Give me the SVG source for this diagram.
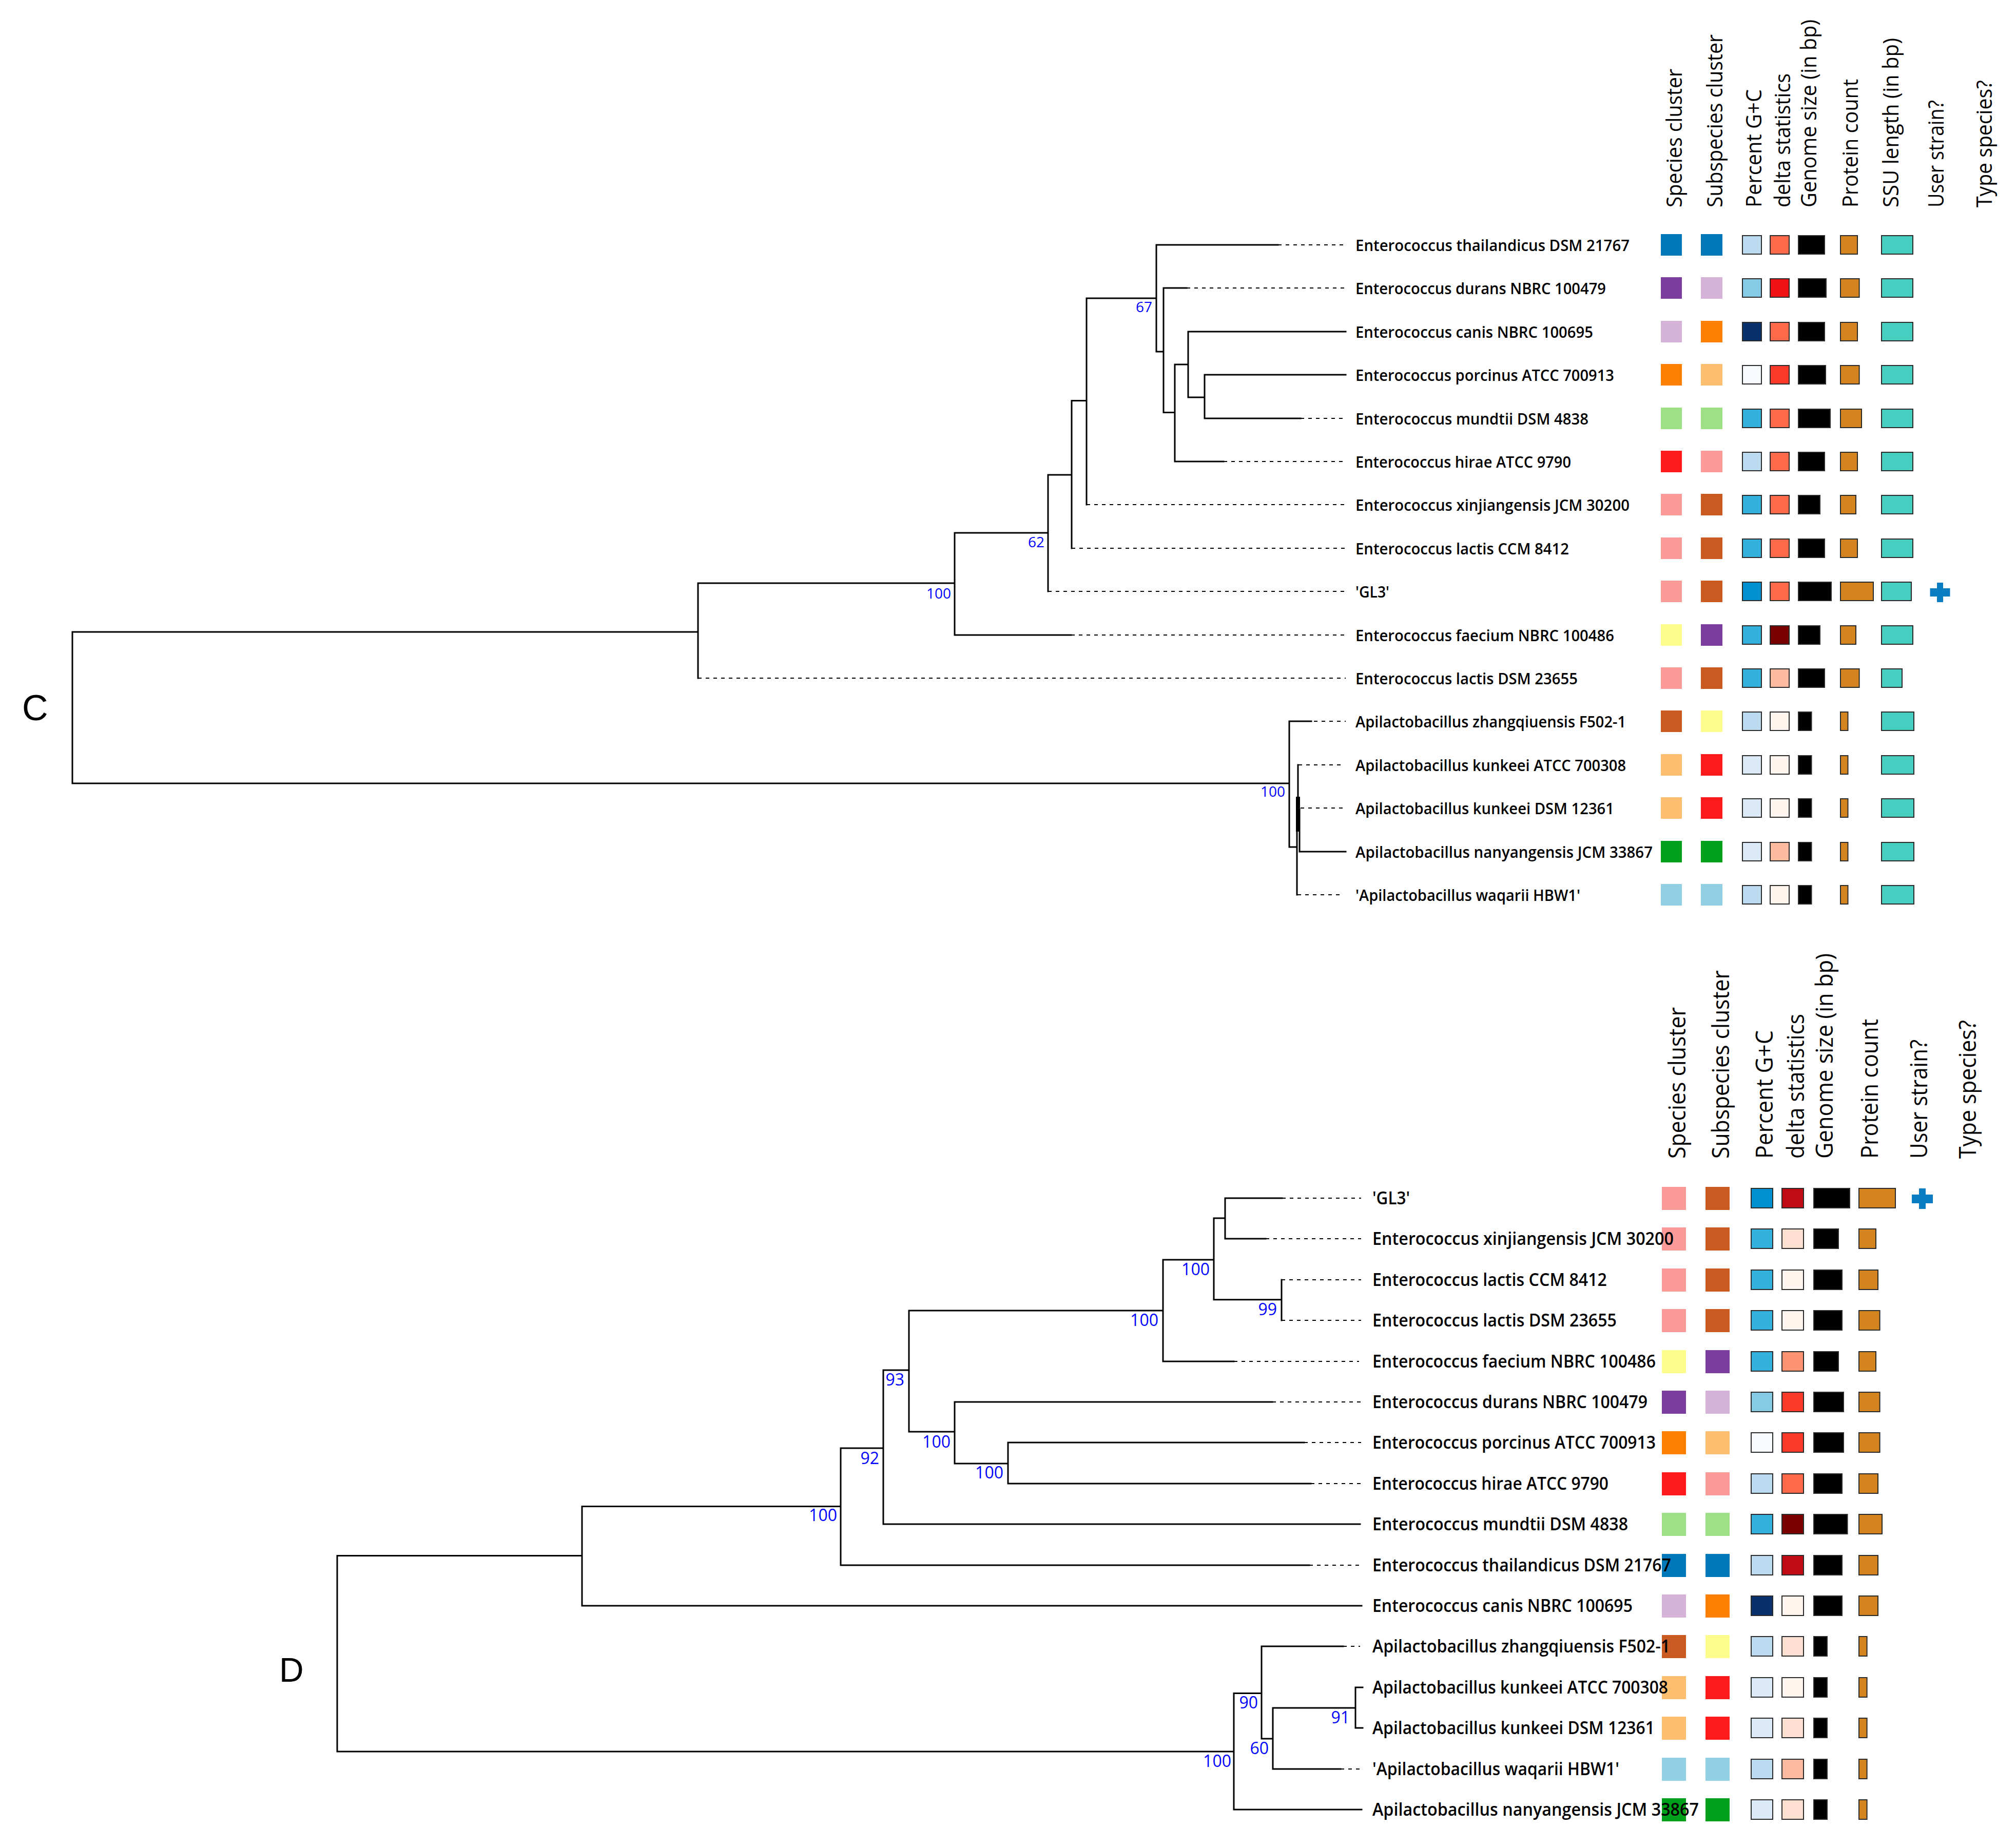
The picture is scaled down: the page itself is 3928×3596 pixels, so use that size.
<svg xmlns="http://www.w3.org/2000/svg" width="3928" height="3596" viewBox="0 0 3928 3596">
<defs>
<style>
.lbl{font-family:"Open Sans","Noto Sans","Liberation Sans",sans-serif;font-weight:600;fill:#000}
.lc{font-size:31px}
.ld{font-size:34px}
.hdr{font-family:"Open Sans","Noto Sans","Liberation Sans",sans-serif;fill:#000}
.hc{font-size:42px}
.hd{font-size:45px}
.bs{font-family:"Open Sans","Noto Sans","Liberation Sans",sans-serif;fill:#0000ff;text-anchor:end}
.bsc{font-size:28px}
.bsd{font-size:32px}
.pl{font-family:"Liberation Sans",Arial,sans-serif;fill:#000}
.br{stroke:#000;stroke-width:3;fill:none;stroke-linecap:square}
.dt{stroke:#000;stroke-width:2;fill:none;stroke-dasharray:7 8}
.m{stroke:#2b2b2b;stroke-width:2}
.k0{fill:#0077b8}.k1{fill:#7b3d9e}.k2{fill:#d5b3d9}.k3{fill:#ff7f00}.k4{fill:#fdbf6f}.k5{fill:#9de085}
.k6{fill:#fc1a1a}.k7{fill:#fb9a99}.k8{fill:#c85a22}.k9{fill:#fdfd8e}.k10{fill:#00a01a}.k11{fill:#92cfe3}
.g1{fill:#bcdaf0}.g2{fill:#86cbe5}.g3{fill:#08306b}.g4{fill:#f7fbff}.g5{fill:#33b0dc}.g6{fill:#0090d0}.g7{fill:#dceaf7}
.d1{fill:#ff6b4a}.d2{fill:#ee1217}.d3{fill:#fb3a2a}.d4{fill:#7a0000}.d5{fill:#fdbb9f}.d6{fill:#fff4ee}.d7{fill:#c00a14}.d8{fill:#fee0d2}.d9{fill:#fc9272}.d10{fill:#fcbba1}
.gs{fill:#000}.pc{fill:#d4841f}.ssu{fill:#46cfc0}
.cross{fill:#0a7dc2}
</style>
</defs>
<rect width="3928" height="3596" fill="#fff"/>

<!-- Panel letters -->
<text class="pl" x="43" y="1403" font-size="70">C</text>
<text class="pl" x="544" y="3276" font-size="66">D</text>

<!-- Column headers C -->
<g id="headers-c" class="hdr hc">
<text transform="translate(3277,404) rotate(-90)" textLength="270" lengthAdjust="spacingAndGlyphs">Species cluster</text>
<text transform="translate(3356,404) rotate(-90)" textLength="337" lengthAdjust="spacingAndGlyphs">Subspecies cluster</text>
<text transform="translate(3432,404) rotate(-90)" textLength="230" lengthAdjust="spacingAndGlyphs">Percent G+C</text>
<text transform="translate(3488,404) rotate(-90)" textLength="261" lengthAdjust="spacingAndGlyphs">delta statistics</text>
<text transform="translate(3539,404) rotate(-90)" textLength="366" lengthAdjust="spacingAndGlyphs">Genome size (in bp)</text>
<text transform="translate(3620,404) rotate(-90)" textLength="250" lengthAdjust="spacingAndGlyphs">Protein count</text>
<text transform="translate(3699,404) rotate(-90)" textLength="330" lengthAdjust="spacingAndGlyphs">SSU length (in bp)</text>
<text transform="translate(3787,404) rotate(-90)" textLength="209" lengthAdjust="spacingAndGlyphs">User strain?</text>
<text transform="translate(3881,404) rotate(-90)" textLength="248" lengthAdjust="spacingAndGlyphs">Type species?</text>
</g>

<!-- Column headers D -->
<g id="headers-d" class="hdr hd">
<text transform="translate(3284,2257) rotate(-90)" textLength="295" lengthAdjust="spacingAndGlyphs">Species cluster</text>
<text transform="translate(3369,2257) rotate(-90)" textLength="367" lengthAdjust="spacingAndGlyphs">Subspecies cluster</text>
<text transform="translate(3454,2257) rotate(-90)" textLength="250" lengthAdjust="spacingAndGlyphs">Percent G+C</text>
<text transform="translate(3515,2257) rotate(-90)" textLength="282" lengthAdjust="spacingAndGlyphs">delta statistics</text>
<text transform="translate(3571,2257) rotate(-90)" textLength="400" lengthAdjust="spacingAndGlyphs">Genome size (in bp)</text>
<text transform="translate(3659,2257) rotate(-90)" textLength="272" lengthAdjust="spacingAndGlyphs">Protein count</text>
<text transform="translate(3755,2257) rotate(-90)" textLength="232" lengthAdjust="spacingAndGlyphs">User strain?</text>
<text transform="translate(3850,2257) rotate(-90)" textLength="270" lengthAdjust="spacingAndGlyphs">Type species?</text>
</g>

<!-- Connectors (tree branches) -->
<g id="connectors">
<g id="tree-c">
<path class="br" d="M141 1231V1526M141 1231H1360M141 1526H2512
M1360 1136V1321M1360 1136H1860
M1860 1038V1237M1860 1038H2042M1860 1237H2087
M2042 925V1152M2042 925H2088
M2088 780.5V1068M2088 780.5H2117
M2117 581V983M2117 581H2253
M2253 477V685M2253 477H2490M2253 685H2267
M2267 561V803.5M2267 561H2312M2267 803.5H2289
M2289 710V899M2289 899H2384M2289 710H2315
M2315 646V774M2315 646H2622M2315 774H2347
M2347 730V815M2347 730H2622M2347 815H2534
M2512 1405V1650M2512 1405H2555M2512 1650H2527
M2527 1620V1743M2529 1490V1552M2532 1576V1659M2532 1659H2622"/>
<rect x="2525" y="1552" width="8" height="68" fill="#000"/>
<path class="dt" d="M2490 477H2622M2312 561H2622M2384 899H2622M2534 815H2622M2117 983H2622M2088 1068H2622M2042 1152H2622M2087 1237H2622M1360 1321H2622M2560 1405H2622M2530 1490H2620M2534 1574H2620M2528 1743H2615"/>
</g>
<g id="tree-d">
<path class="br" d="M657 3030.5V3412M657 3030.5H1134M657 3412H2404
M1134 2934.5V3128M1134 2934.5H1638M1134 3128H2653
M1638 2821V3049M1638 2821H1721M1638 3049H2551
M1721 2669V2969M1721 2669H1771M1721 2969H2650
M1771 2553V2789M1771 2553H2266M1771 2789H1860
M1860 2731V2851M1860 2731H2479M1860 2851H1964
M1964 2810V2890M1964 2810H2541M1964 2890H2554
M2266 2454V2652M2266 2454H2365M2266 2652H2404
M2365 2373V2531.7M2365 2373H2387M2365 2531.7H2497
M2387 2334V2413M2387 2334H2498M2387 2413H2466
M2497 2493V2572
M2404 3298.5V3525M2404 3298.5H2458M2404 3525H2653
M2458 3207V3387M2458 3207H2617M2458 3387H2480
M2480 3327V3446M2480 3327H2641M2480 3446H2612
M2641 3287V3366M2641 3287H2655M2641 3366H2655"/>
<path class="dt" d="M2551 3049H2652M2479 2731H2652M2541 2810H2652M2554 2890H2652M2404 2652H2648M2498 2334H2652M2466 2413H2652M2497 2493H2652M2497 2572H2652M2617 3207H2650M2612 3446H2652"/>
</g>
</g>

<!-- Support values -->
<g id="support-c" class="bs bsc">
<text x="2245" y="608">67</text>
<text x="2035" y="1066">62</text>
<text x="1853" y="1166">100</text>
<text x="2504" y="1552">100</text>
</g>
<g id="support-d" class="bs bsd">
<text x="1631" y="2963">100</text>
<text x="1713" y="2852">92</text>
<text x="1762" y="2699">93</text>
<text x="2257" y="2583">100</text>
<text x="1852" y="2820">100</text>
<text x="1955" y="2880">100</text>
<text x="2357" y="2484">100</text>
<text x="2488" y="2562">99</text>
<text x="2399" y="3442">100</text>
<text x="2451" y="3328">90</text>
<text x="2472" y="3417">60</text>
<text x="2630" y="3357">91</text>
</g>

<!-- Panel C leaves -->
<g id="c-thailandicus">
<rect class="k0" x="3236" y="456" width="41" height="42"/><rect class="k0" x="3314" y="456" width="42" height="42"/>
<rect class="m g1" x="3395" y="459" width="37" height="36"/><rect class="m d1" x="3449" y="459" width="37" height="36"/>
<rect class="m gs" x="3504" y="459" width="51" height="36"/><rect class="m pc" x="3586" y="459" width="33" height="36"/><rect class="m ssu" x="3666" y="459" width="61" height="36"/>
<text class="lbl lc" x="2641" y="489" textLength="534" lengthAdjust="spacingAndGlyphs">Enterococcus thailandicus DSM 21767</text>
</g>
<g id="c-durans">
<rect class="k1" x="3236" y="540" width="41" height="42"/><rect class="k2" x="3314" y="540" width="42" height="42"/>
<rect class="m g2" x="3395" y="543" width="37" height="36"/><rect class="m d2" x="3449" y="543" width="37" height="36"/>
<rect class="m gs" x="3504" y="543" width="54" height="36"/><rect class="m pc" x="3586" y="543" width="36.6" height="36"/><rect class="m ssu" x="3666" y="543" width="61" height="36"/>
<text class="lbl lc" x="2641" y="573" textLength="488" lengthAdjust="spacingAndGlyphs">Enterococcus durans NBRC 100479</text>
</g>
<g id="c-canis">
<rect class="k2" x="3236" y="625" width="41" height="42"/><rect class="k3" x="3314" y="625" width="42" height="42"/>
<rect class="m g3" x="3395" y="628" width="37" height="36"/><rect class="m d1" x="3449" y="628" width="37" height="36"/>
<rect class="m gs" x="3504" y="628" width="51" height="36"/><rect class="m pc" x="3586" y="628" width="33" height="36"/><rect class="m ssu" x="3666" y="628" width="61" height="36"/>
<text class="lbl lc" x="2641" y="658" textLength="463" lengthAdjust="spacingAndGlyphs">Enterococcus canis NBRC 100695</text>
</g>
<g id="c-porcinus">
<rect class="k3" x="3236" y="709" width="41" height="42"/><rect class="k4" x="3314" y="709" width="42" height="42"/>
<rect class="m g4" x="3395" y="712" width="37" height="36"/><rect class="m d3" x="3449" y="712" width="37" height="36"/>
<rect class="m gs" x="3504" y="712" width="53" height="36"/><rect class="m pc" x="3586" y="712" width="36.6" height="36"/><rect class="m ssu" x="3666" y="712" width="61" height="36"/>
<text class="lbl lc" x="2641" y="742" textLength="504" lengthAdjust="spacingAndGlyphs">Enterococcus porcinus ATCC 700913</text>
</g>
<g id="c-mundtii">
<rect class="k5" x="3236" y="794" width="41" height="42"/><rect class="k5" x="3314" y="794" width="42" height="42"/>
<rect class="m g5" x="3395" y="797" width="37" height="36"/><rect class="m d1" x="3449" y="797" width="37" height="36"/>
<rect class="m gs" x="3504" y="797" width="62" height="36"/><rect class="m pc" x="3586" y="797" width="41" height="36"/><rect class="m ssu" x="3666" y="797" width="61" height="36"/>
<text class="lbl lc" x="2641" y="827" textLength="454" lengthAdjust="spacingAndGlyphs">Enterococcus mundtii DSM 4838</text>
</g>
<g id="c-hirae">
<rect class="k6" x="3236" y="878" width="41" height="42"/><rect class="k7" x="3314" y="878" width="42" height="42"/>
<rect class="m g1" x="3395" y="881" width="37" height="36"/><rect class="m d1" x="3449" y="881" width="37" height="36"/>
<rect class="m gs" x="3504" y="881" width="51" height="36"/><rect class="m pc" x="3586" y="881" width="33" height="36"/><rect class="m ssu" x="3666" y="881" width="61" height="36"/>
<text class="lbl lc" x="2641" y="911" textLength="420" lengthAdjust="spacingAndGlyphs">Enterococcus hirae ATCC 9790</text>
</g>
<g id="c-xinjiangensis">
<rect class="k7" x="3236" y="962" width="41" height="42"/><rect class="k8" x="3314" y="962" width="42" height="42"/>
<rect class="m g5" x="3395" y="965" width="37" height="36"/><rect class="m d1" x="3449" y="965" width="37" height="36"/>
<rect class="m gs" x="3504" y="965" width="42" height="36"/><rect class="m pc" x="3586" y="965" width="30" height="36"/><rect class="m ssu" x="3666" y="965" width="61" height="36"/>
<text class="lbl lc" x="2641" y="995" textLength="534" lengthAdjust="spacingAndGlyphs">Enterococcus xinjiangensis JCM 30200</text>
</g>
<g id="c-lactis-ccm">
<rect class="k7" x="3236" y="1047" width="41" height="42"/><rect class="k8" x="3314" y="1047" width="42" height="42"/>
<rect class="m g5" x="3395" y="1050" width="37" height="36"/><rect class="m d1" x="3449" y="1050" width="37" height="36"/>
<rect class="m gs" x="3504" y="1050" width="51" height="36"/><rect class="m pc" x="3586" y="1050" width="33" height="36"/><rect class="m ssu" x="3666" y="1050" width="61" height="36"/>
<text class="lbl lc" x="2641" y="1080" textLength="416" lengthAdjust="spacingAndGlyphs">Enterococcus lactis CCM 8412</text>
</g>
<g id="c-gl3">
<rect class="k7" x="3236" y="1131" width="41" height="42"/><rect class="k8" x="3314" y="1131" width="42" height="42"/>
<rect class="m g6" x="3395" y="1134" width="37" height="36"/><rect class="m d1" x="3449" y="1134" width="37" height="36"/>
<rect class="m gs" x="3504" y="1134" width="64" height="36"/><rect class="m pc" x="3586" y="1134" width="64" height="36"/><rect class="m ssu" x="3666" y="1134" width="58" height="36"/>
<path class="cross" d="M3774 1135h12v11h13.5v16h-13.5v11h-12v-11h-13.5v-16h13.5z"/>
<text class="lbl lc" x="2641" y="1164" textLength="66" lengthAdjust="spacingAndGlyphs">'GL3'</text>
</g>
<g id="c-faecium">
<rect class="k9" x="3236" y="1216" width="41" height="42"/><rect class="k1" x="3314" y="1216" width="42" height="42"/>
<rect class="m g5" x="3395" y="1219" width="37" height="36"/><rect class="m d4" x="3449" y="1219" width="37" height="36"/>
<rect class="m gs" x="3504" y="1219" width="42" height="36"/><rect class="m pc" x="3586" y="1219" width="30" height="36"/><rect class="m ssu" x="3666" y="1219" width="61" height="36"/>
<text class="lbl lc" x="2641" y="1249" textLength="504" lengthAdjust="spacingAndGlyphs">Enterococcus faecium NBRC 100486</text>
</g>
<g id="c-lactis-dsm">
<rect class="k7" x="3236" y="1300" width="41" height="42"/><rect class="k8" x="3314" y="1300" width="42" height="42"/>
<rect class="m g5" x="3395" y="1303" width="37" height="36"/><rect class="m d5" x="3449" y="1303" width="37" height="36"/>
<rect class="m gs" x="3504" y="1303" width="51" height="36"/><rect class="m pc" x="3586" y="1303" width="36.6" height="36"/><rect class="m ssu" x="3666" y="1303" width="40" height="36"/>
<text class="lbl lc" x="2641" y="1333" textLength="433" lengthAdjust="spacingAndGlyphs">Enterococcus lactis DSM 23655</text>
</g>
<g id="c-zhangqiuensis">
<rect class="k8" x="3236" y="1384" width="41" height="42"/><rect class="k9" x="3314" y="1384" width="42" height="42"/>
<rect class="m g1" x="3395" y="1387" width="37" height="36"/><rect class="m d6" x="3449" y="1387" width="37" height="36"/>
<rect class="m gs" x="3504" y="1387" width="25.5" height="36"/><rect class="m pc" x="3586" y="1387" width="14.5" height="36"/><rect class="m ssu" x="3666" y="1387" width="63" height="36"/>
<text class="lbl lc" x="2641" y="1417" textLength="527" lengthAdjust="spacingAndGlyphs">Apilactobacillus zhangqiuensis F502-1</text>
</g>
<g id="c-kunkeei-atcc">
<rect class="k4" x="3236" y="1469" width="41" height="42"/><rect class="k6" x="3314" y="1469" width="42" height="42"/>
<rect class="m g7" x="3395" y="1472" width="37" height="36"/><rect class="m d6" x="3449" y="1472" width="37" height="36"/>
<rect class="m gs" x="3504" y="1472" width="25.5" height="36"/><rect class="m pc" x="3586" y="1472" width="14.5" height="36"/><rect class="m ssu" x="3666" y="1472" width="63" height="36"/>
<text class="lbl lc" x="2641" y="1502" textLength="527" lengthAdjust="spacingAndGlyphs">Apilactobacillus kunkeei ATCC 700308</text>
</g>
<g id="c-kunkeei-dsm">
<rect class="k4" x="3236" y="1553" width="41" height="42"/><rect class="k6" x="3314" y="1553" width="42" height="42"/>
<rect class="m g7" x="3395" y="1556" width="37" height="36"/><rect class="m d6" x="3449" y="1556" width="37" height="36"/>
<rect class="m gs" x="3504" y="1556" width="25.5" height="36"/><rect class="m pc" x="3586" y="1556" width="14.5" height="36"/><rect class="m ssu" x="3666" y="1556" width="63" height="36"/>
<text class="lbl lc" x="2641" y="1586" textLength="504" lengthAdjust="spacingAndGlyphs">Apilactobacillus kunkeei DSM 12361</text>
</g>
<g id="c-nanyangensis">
<rect class="k10" x="3236" y="1638" width="41" height="42"/><rect class="k10" x="3314" y="1638" width="42" height="42"/>
<rect class="m g7" x="3395" y="1641" width="37" height="36"/><rect class="m d5" x="3449" y="1641" width="37" height="36"/>
<rect class="m gs" x="3504" y="1641" width="25.5" height="36"/><rect class="m pc" x="3586" y="1641" width="14.5" height="36"/><rect class="m ssu" x="3666" y="1641" width="63" height="36"/>
<text class="lbl lc" x="2641" y="1671" textLength="579" lengthAdjust="spacingAndGlyphs">Apilactobacillus nanyangensis JCM 33867</text>
</g>
<g id="c-waqarii">
<rect class="k11" x="3236" y="1722" width="41" height="42"/><rect class="k11" x="3314" y="1722" width="42" height="42"/>
<rect class="m g1" x="3395" y="1725" width="37" height="36"/><rect class="m d6" x="3449" y="1725" width="37" height="36"/>
<rect class="m gs" x="3504" y="1725" width="25.5" height="36"/><rect class="m pc" x="3586" y="1725" width="14.5" height="36"/><rect class="m ssu" x="3666" y="1725" width="63" height="36"/>
<text class="lbl lc" x="2641" y="1755" textLength="438" lengthAdjust="spacingAndGlyphs">'Apilactobacillus waqarii HBW1'</text>
</g>

<!-- Panel D leaves -->
<g id="d-gl3">
<rect class="k7" x="3238" y="2312" width="47" height="45"/><rect class="k8" x="3323" y="2312" width="47" height="45"/>
<rect class="m g6" x="3412" y="2315" width="42" height="38"/><rect class="m d7" x="3472" y="2315" width="42" height="38"/>
<rect class="m gs" x="3534" y="2315" width="70" height="38"/><rect class="m pc" x="3622" y="2315" width="71" height="38"/>
<path class="cross" d="M3739 2315h13v12h14v17h-14v11h-13v-11h-14v-17h14z"/>
<text class="lbl ld" x="2674" y="2346" textLength="73" lengthAdjust="spacingAndGlyphs">'GL3'</text>
</g>
<g id="d-xinjiangensis">
<rect class="k7" x="3238" y="2391" width="47" height="45"/><rect class="k8" x="3323" y="2391" width="47" height="45"/>
<rect class="m g5" x="3412" y="2394" width="42" height="38"/><rect class="m d8" x="3472" y="2394" width="42" height="38"/>
<rect class="m gs" x="3534" y="2394" width="48" height="38"/><rect class="m pc" x="3622" y="2394" width="33" height="38"/>
<text class="lbl ld" x="2674" y="2425" textLength="587" lengthAdjust="spacingAndGlyphs">Enterococcus xinjiangensis JCM 30200</text>
</g>
<g id="d-lactis-ccm">
<rect class="k7" x="3238" y="2471" width="47" height="45"/><rect class="k8" x="3323" y="2471" width="47" height="45"/>
<rect class="m g5" x="3412" y="2474" width="42" height="38"/><rect class="m d6" x="3472" y="2474" width="42" height="38"/>
<rect class="m gs" x="3534" y="2474" width="55" height="38"/><rect class="m pc" x="3622" y="2474" width="37" height="38"/>
<text class="lbl ld" x="2674" y="2505" textLength="457" lengthAdjust="spacingAndGlyphs">Enterococcus lactis CCM 8412</text>
</g>
<g id="d-lactis-dsm">
<rect class="k7" x="3238" y="2550" width="47" height="45"/><rect class="k8" x="3323" y="2550" width="47" height="45"/>
<rect class="m g5" x="3412" y="2553" width="42" height="38"/><rect class="m d6" x="3472" y="2553" width="42" height="38"/>
<rect class="m gs" x="3534" y="2553" width="55" height="38"/><rect class="m pc" x="3622" y="2553" width="40.6" height="38"/>
<text class="lbl ld" x="2674" y="2584" textLength="476" lengthAdjust="spacingAndGlyphs">Enterococcus lactis DSM 23655</text>
</g>
<g id="d-faecium">
<rect class="k9" x="3238" y="2630" width="47" height="45"/><rect class="k1" x="3323" y="2630" width="47" height="45"/>
<rect class="m g5" x="3412" y="2633" width="42" height="38"/><rect class="m d9" x="3472" y="2633" width="42" height="38"/>
<rect class="m gs" x="3534" y="2633" width="48" height="38"/><rect class="m pc" x="3622" y="2633" width="33" height="38"/>
<text class="lbl ld" x="2674" y="2664" textLength="552" lengthAdjust="spacingAndGlyphs">Enterococcus faecium NBRC 100486</text>
</g>
<g id="d-durans">
<rect class="k1" x="3238" y="2709" width="47" height="45"/><rect class="k2" x="3323" y="2709" width="47" height="45"/>
<rect class="m g2" x="3412" y="2712" width="42" height="38"/><rect class="m d3" x="3472" y="2712" width="42" height="38"/>
<rect class="m gs" x="3534" y="2712" width="58" height="38"/><rect class="m pc" x="3622" y="2712" width="40.6" height="38"/>
<text class="lbl ld" x="2674" y="2743" textLength="536" lengthAdjust="spacingAndGlyphs">Enterococcus durans NBRC 100479</text>
</g>
<g id="d-porcinus">
<rect class="k3" x="3238" y="2788" width="47" height="45"/><rect class="k4" x="3323" y="2788" width="47" height="45"/>
<rect class="m g4" x="3412" y="2791" width="42" height="38"/><rect class="m d3" x="3472" y="2791" width="42" height="38"/>
<rect class="m gs" x="3534" y="2791" width="58" height="38"/><rect class="m pc" x="3622" y="2791" width="40.6" height="38"/>
<text class="lbl ld" x="2674" y="2822" textLength="552" lengthAdjust="spacingAndGlyphs">Enterococcus porcinus ATCC 700913</text>
</g>
<g id="d-hirae">
<rect class="k6" x="3238" y="2868" width="47" height="45"/><rect class="k7" x="3323" y="2868" width="47" height="45"/>
<rect class="m g1" x="3412" y="2871" width="42" height="38"/><rect class="m d1" x="3472" y="2871" width="42" height="38"/>
<rect class="m gs" x="3534" y="2871" width="55" height="38"/><rect class="m pc" x="3622" y="2871" width="37" height="38"/>
<text class="lbl ld" x="2674" y="2902" textLength="460" lengthAdjust="spacingAndGlyphs">Enterococcus hirae ATCC 9790</text>
</g>
<g id="d-mundtii">
<rect class="k5" x="3238" y="2947" width="47" height="45"/><rect class="k5" x="3323" y="2947" width="47" height="45"/>
<rect class="m g5" x="3412" y="2950" width="42" height="38"/><rect class="m d4" x="3472" y="2950" width="42" height="38"/>
<rect class="m gs" x="3534" y="2950" width="65.5" height="38"/><rect class="m pc" x="3622" y="2950" width="45" height="38"/>
<text class="lbl ld" x="2674" y="2981" textLength="498" lengthAdjust="spacingAndGlyphs">Enterococcus mundtii DSM 4838</text>
</g>
<g id="d-thailandicus">
<rect class="k0" x="3238" y="3027" width="47" height="45"/><rect class="k0" x="3323" y="3027" width="47" height="45"/>
<rect class="m g1" x="3412" y="3030" width="42" height="38"/><rect class="m d7" x="3472" y="3030" width="42" height="38"/>
<rect class="m gs" x="3534" y="3030" width="55" height="38"/><rect class="m pc" x="3622" y="3030" width="37" height="38"/>
<text class="lbl ld" x="2674" y="3061" textLength="582" lengthAdjust="spacingAndGlyphs">Enterococcus thailandicus DSM 21767</text>
</g>
<g id="d-canis">
<rect class="k2" x="3238" y="3106" width="47" height="45"/><rect class="k3" x="3323" y="3106" width="47" height="45"/>
<rect class="m g3" x="3412" y="3109" width="42" height="38"/><rect class="m d6" x="3472" y="3109" width="42" height="38"/>
<rect class="m gs" x="3534" y="3109" width="55" height="38"/><rect class="m pc" x="3622" y="3109" width="37" height="38"/>
<text class="lbl ld" x="2674" y="3140" textLength="507" lengthAdjust="spacingAndGlyphs">Enterococcus canis NBRC 100695</text>
</g>
<g id="d-zhangqiuensis">
<rect class="k8" x="3238" y="3185" width="47" height="45"/><rect class="k9" x="3323" y="3185" width="47" height="45"/>
<rect class="m g1" x="3412" y="3188" width="42" height="38"/><rect class="m d8" x="3472" y="3188" width="42" height="38"/>
<rect class="m gs" x="3534" y="3188" width="26" height="38"/><rect class="m pc" x="3622" y="3188" width="15.6" height="38"/>
<text class="lbl ld" x="2674" y="3219" textLength="580" lengthAdjust="spacingAndGlyphs">Apilactobacillus zhangqiuensis F502-1</text>
</g>
<g id="d-kunkeei-atcc">
<rect class="k4" x="3238" y="3265" width="47" height="45"/><rect class="k6" x="3323" y="3265" width="47" height="45"/>
<rect class="m g7" x="3412" y="3268" width="42" height="38"/><rect class="m d6" x="3472" y="3268" width="42" height="38"/>
<rect class="m gs" x="3534" y="3268" width="26" height="38"/><rect class="m pc" x="3622" y="3268" width="15.6" height="38"/>
<text class="lbl ld" x="2674" y="3299" textLength="576" lengthAdjust="spacingAndGlyphs">Apilactobacillus kunkeei ATCC 700308</text>
</g>
<g id="d-kunkeei-dsm">
<rect class="k4" x="3238" y="3344" width="47" height="45"/><rect class="k6" x="3323" y="3344" width="47" height="45"/>
<rect class="m g7" x="3412" y="3347" width="42" height="38"/><rect class="m d8" x="3472" y="3347" width="42" height="38"/>
<rect class="m gs" x="3534" y="3347" width="26" height="38"/><rect class="m pc" x="3622" y="3347" width="15.6" height="38"/>
<text class="lbl ld" x="2674" y="3378" textLength="550" lengthAdjust="spacingAndGlyphs">Apilactobacillus kunkeei DSM 12361</text>
</g>
<g id="d-waqarii">
<rect class="k11" x="3238" y="3424" width="47" height="45"/><rect class="k11" x="3323" y="3424" width="47" height="45"/>
<rect class="m g1" x="3412" y="3427" width="42" height="38"/><rect class="m d10" x="3472" y="3427" width="42" height="38"/>
<rect class="m gs" x="3534" y="3427" width="26" height="38"/><rect class="m pc" x="3622" y="3427" width="15.6" height="38"/>
<text class="lbl ld" x="2674" y="3458" textLength="481" lengthAdjust="spacingAndGlyphs">'Apilactobacillus waqarii HBW1'</text>
</g>
<g id="d-nanyangensis">
<rect class="k10" x="3238" y="3503" width="47" height="45"/><rect class="k10" x="3323" y="3503" width="47" height="45"/>
<rect class="m g7" x="3412" y="3506" width="42" height="38"/><rect class="m d8" x="3472" y="3506" width="42" height="38"/>
<rect class="m gs" x="3534" y="3506" width="26" height="38"/><rect class="m pc" x="3622" y="3506" width="15.6" height="38"/>
<text class="lbl ld" x="2674" y="3537" textLength="636" lengthAdjust="spacingAndGlyphs">Apilactobacillus nanyangensis JCM 33867</text>
</g>
</svg>
